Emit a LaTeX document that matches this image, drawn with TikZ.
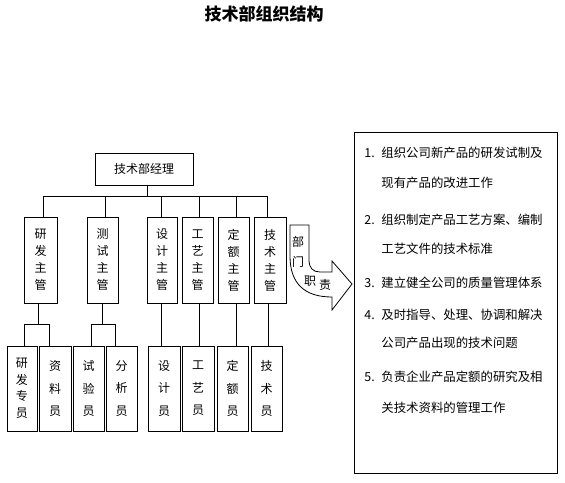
\documentclass[tikz,border=0pt]{standalone}
\usepackage{fontspec}
\setmainfont{Noto Sans CJK SC}
\begin{document}
\begin{tikzpicture}[x=1pt,y=-1pt,line width=0.8pt,
  box/.style={draw,inner sep=0pt,align=center,font=\fontsize{12}{17}\selectfont},
  sup/.style={box,minimum height=86pt},
  staff/.style={box,minimum height=85pt},
  stafftri/.style={staff,font=\fontsize{12}{22.5}\selectfont},
  item/.style={anchor=west,inner sep=0pt,font=\fontsize{12.4}{14}\selectfont},
  arrowtxt/.style={inner sep=0pt,font=\fontsize{12}{14}\selectfont}]
\useasboundingbox (0,0) rectangle (565,482);
\node[inner sep=0pt,font=\fontsize{17}{20}\selectfont\bfseries] (title) at (264,14) {技术部组织结构};
\node[box,minimum width=98pt,minimum height=32pt] (mgr) at (144,169) {技术部经理};
\node[sup,minimum width=33pt] (s1) at (40.5,260) {研\\发\\主\\管};
\node[sup,minimum width=31pt] (s2) at (102.5,260) {测\\试\\主\\管};
\node[sup,minimum width=30pt] (s3) at (162,260) {设\\计\\主\\管};
\node[sup,minimum width=31pt] (s4) at (197.5,260) {工\\艺\\主\\管};
\node[sup,minimum width=31pt] (s5) at (233.5,260) {定\\额\\主\\管};
\node[sup,minimum width=32pt] (s6) at (270,260) {技\\术\\主\\管};
\node[staff,minimum width=30pt,font=\fontsize{12}{16.5}\selectfont] (t1) at (22,388.5) {研\\发\\专\\员};
\node[stafftri,minimum width=32pt] (t2) at (55,388.5) {资\\料\\员};
\node[stafftri,minimum width=31pt] (t3) at (88.5,388.5) {试\\验\\员};
\node[stafftri,minimum width=31pt] (t4) at (121.5,388.5) {分\\析\\员};
\node[stafftri,minimum width=32pt] (t5) at (164,388.5) {设\\计\\员};
\node[stafftri,minimum width=32pt] (t6) at (198,388.5) {工\\艺\\员};
\node[stafftri,minimum width=31pt] (t7) at (232.5,388.5) {定\\额\\员};
\node[stafftri,minimum width=31pt] (t8) at (266.5,388.5) {技\\术\\员};
% top connectors
\draw ([xshift=3pt]mgr.south) -- ++(0,12);
\draw ([xshift=2.5pt]s1.north) -- ++(0,-20) -| ([xshift=-3pt]s6.north);
\draw ([xshift=2.5pt]s2.north) -- ++(0,-20);
\draw ([xshift=-1pt]s3.north) -- ++(0,-20);
\draw ([xshift=1.5pt]s4.north) -- ++(0,-20);
\draw ([xshift=2.5pt]s5.north) -- ++(0,-20);
% bottom connectors
\draw ([xshift=-2.5pt]s1.south) -- ++(0,22);
\draw ([xshift=2pt]t1.north) -- ++(0,-21) -| ([xshift=-6pt]t2.north);
\draw (s2.south) -- ++(0,22);
\draw ([xshift=2.5pt]t3.north) -- ++(0,-21) -| ([xshift=-6.5pt]t4.north);
\draw ([xshift=-1pt]s3.south) -- ([xshift=-1pt]s3.south |- t5.north);
\draw ([xshift=1.5pt]s4.south) -- ([xshift=1.5pt]s4.south |- t6.north);
\draw ([xshift=2.5pt]s5.south) -- ([xshift=2.5pt]s5.south |- t7.north);
\draw ([xshift=-2pt]s6.south) -- ([xshift=-2pt]s6.south |- t8.north);
% U-turn arrow
\draw[fill=white] (290,225) -- (290,256) .. controls (290,284) and (305,297) .. (332,297)
  -- (332,310) -- (352,284) -- (332,261) -- (332,272) -- (320,272)
  .. controls (313,272) and (309,268) .. (309,260) -- (309,225) -- cycle;
\node[arrowtxt] (a1) at (298,242) {部};
\node[arrowtxt] (a2) at (298,262) {门};
\node[arrowtxt] (a3) at (310,281) {职};
\node[arrowtxt] (a4) at (325,285) {责};
% duties box
\node[draw,inner sep=0pt,minimum width=203pt,minimum height=341pt] (rb) at (455.5,302.5) {};
\node[item] (n1) at (364,153) {1.};
\node[item] (l1) at (381,153) {组织公司新产品的研发试制及};
\node[item] (l1b) at (381,183) {现有产品的改进工作};
\node[item] (n2) at (364,220) {2.};
\node[item] (l2) at (381,220) {组织制定产品工艺方案、编制};
\node[item] (l2b) at (381,249) {工艺文件的技术标准};
\node[item] (n3) at (364,283) {3.};
\node[item] (l3) at (381,283) {建立健全公司的质量管理体系};
\node[item] (n4) at (364,315) {4.};
\node[item] (l4) at (381,315) {及时指导、处理、协调和解决};
\node[item] (l4b) at (381,343) {公司产品出现的技术问题};
\node[item] (n5) at (364,377) {5.};
\node[item] (l5) at (381,377) {负责企业产品定额的研究及相};
\node[item] (l5b) at (381,408) {关技术资料的管理工作};
\end{tikzpicture}
\end{document}
